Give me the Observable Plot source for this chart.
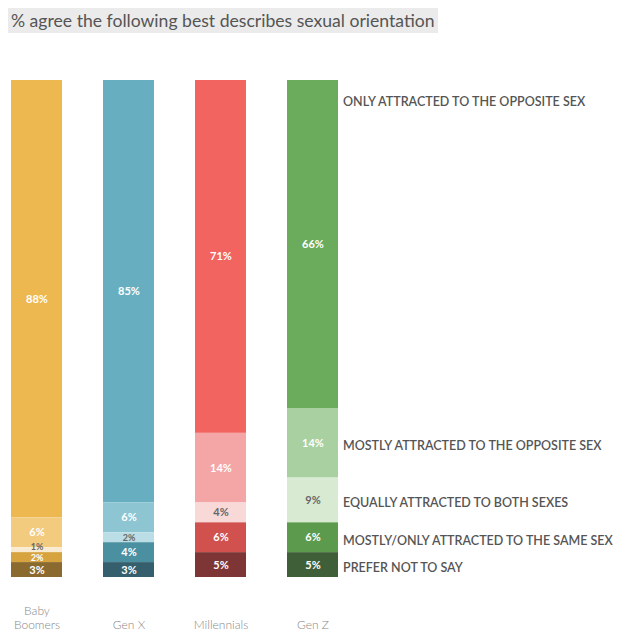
<!DOCTYPE html>
<html><head><meta charset="utf-8">
<script src="https://cdn.jsdelivr.net/npm/d3@7"></script>
<script src="https://cdn.jsdelivr.net/npm/@observablehq/plot@0.6"></script>
<style>
body{margin:0;background:#fff;font-family:Lato,"Open Sans",sans-serif;}
#title{height:40px;position:relative;}
#title span{position:absolute;left:8px;top:8px;font-size:17.6px;line-height:25px;color:#555;background:#ebebeb;padding:0 3px;white-space:nowrap;}
</style></head><body>
<div id="title"><span>% agree the following best describes sexual orientation</span></div>
<div id="chart"></div>
<script>
const generations = ["Baby Boomers", "Gen X", "Millennials", "Gen Z"];
const xLabels = ["Baby\nBoomers", "Gen X", "Millennials", "Gen Z"];
const categories = [
  "ONLY ATTRACTED TO THE OPPOSITE SEX",
  "MOSTLY ATTRACTED TO THE OPPOSITE SEX",
  "EQUALLY ATTRACTED TO BOTH SEXES",
  "MOSTLY/ONLY ATTRACTED TO THE SAME SEX",
  "PREFER NOT TO SAY"
];
const babyBoomers = [88, 6, 1, 2, 3];
const genX = [85, 6, 2, 4, 3];
const millennials = [71, 14, 4, 6, 5];
const genZ = [66, 14, 9, 6, 5];
const series = [babyBoomers, genX, millennials, genZ];

const palettes = [
  ["#edb850", "#f2cb7f", "#f8ebd2", "#d6a33f", "#8a6a2e"],
  ["#67afc0", "#8dc5d3", "#bbdde5", "#4b90a1", "#365f6d"],
  ["#f1645f", "#f4a6a6", "#f9d8d8", "#d0514e", "#7e3535"],
  ["#6aab5c", "#a9d0a0", "#d9ead3", "#5c9a4e", "#3f5f39"]
];

const rows = [];
generations.forEach((g, i) => categories.forEach((c, j) => rows.push({
  generation: g, category: c, value: series[i][j], color: palettes[i][j]
})));
const stackOrder = categories.slice().reverse();
const labelFill = d => d3.lab(d.color).l > 85 ? "#666" : "#fff";
const labelSize = d => d.value <= 2 ? 9 : 11;
const genZRows = rows.filter(d => d.generation === "Gen Z");
const stackOpts = {x: "generation", y: "value", z: "category", order: stackOrder};

const chart = Plot.plot({
  width: 622,
  height: 591,
  marginTop: 40,
  marginBottom: 54,
  marginLeft: 0,
  marginRight: 0,
  style: {background: "#fff", fontFamily: "Lato, 'Open Sans', sans-serif"},
  x: {domain: generations, range: [10, 339], paddingInner: 0.45, paddingOuter: 0, axis: null},
  y: {domain: [0, 100], axis: null},
  color: {type: "identity"},
  marks: [
    Plot.barY(rows, Plot.stackY({...stackOpts, fill: "color"})),
    // segment value labels (the tiny 1% one nudged up so it clears its neighbour)
    Plot.text(rows, Plot.stackY({
      ...stackOpts,
      text: d => d.value > 1 ? d.value + "%" : "",
      fill: labelFill, fontSize: labelSize, fontWeight: 700
    })),
    Plot.text(rows, Plot.stackY({
      ...stackOpts,
      text: d => d.value <= 1 ? d.value + "%" : "",
      fill: labelFill, fontSize: labelSize, fontWeight: 700, dy: -3
    })),
    Plot.text(genZRows, Plot.stackY({
      ...stackOpts,
      text: d => d.category !== categories[0] ? d.category : "",
      textAnchor: "start", dx: 30, dy: 3, fill: "#555",
      fontSize: 12.5, fontWeight: 600,
      ariaLabel: "legend"
    })),
    Plot.text(genZRows, Plot.stackY2({
      ...stackOpts,
      text: d => d.category === categories[0] ? d.category : "",
      textAnchor: "start", dx: 30, dy: 21, fill: "#555",
      fontSize: 12.5, fontWeight: 600,
      ariaLabel: "legend"
    })),
    Plot.text(generations, {
      x: d => d, text: (d, i) => xLabels[i], frameAnchor: "bottom",
      lineAnchor: "bottom", dy: 51, lineHeight: 1.15,
      fill: "#888", fontSize: 12, fontWeight: 300
    })
  ]
});
document.getElementById("chart").appendChild(chart);

// light grey highlight behind legend labels
chart.querySelectorAll('g[aria-label="legend"] text').forEach(t => {
  const b = t.getBBox();
  if (b.width < 1) return;
  const r = document.createElementNS("http://www.w3.org/2000/svg", "rect");
  const tr = t.getAttribute("transform");
  if (tr) r.setAttribute("transform", tr);
  r.setAttribute("x", b.x - 2);
  r.setAttribute("y", b.y + 1);
  r.setAttribute("width", b.width + 4);
  r.setAttribute("height", b.height - 2);
  r.setAttribute("fill", "#e6e6e6");
  t.parentNode.insertBefore(r, t);
});
</script>
</body></html>
